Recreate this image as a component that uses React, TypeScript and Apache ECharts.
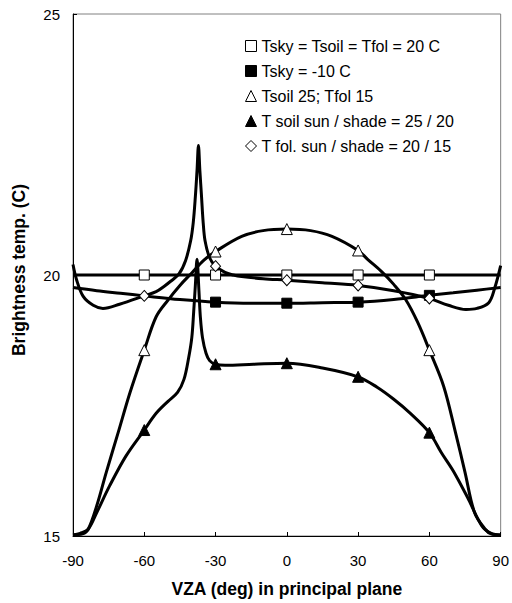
import React, { useEffect, useRef } from 'react';
import * as echarts from 'echarts';

const FONT = '"Liberation Sans", Arial, sans-serif';

const SERIES_NAMES = [
  'Tsky = Tsoil = Tfol = 20 C',
  'Tsky = -10 C',
  'Tsoil 25; Tfol 15',
  'T soil sun / shade = 25 / 20',
  'T fol. sun / shade = 20 / 15',
];

const MARKER_X = [-60, -30, 0, 30, 60];
const MARKER_X_TSKY = [-30, 0, 30, 60];

const X_TICKS = [-90, -60, -30, 0, 30, 60, 90];
const Y_TICKS = [15, 20, 25];

// Series 1: uniform 20 C
const uniformX = [-90, -60, -30, 0, 30, 60, 90];
const uniformY = [20, 20, 20, 20, 20, 20, 20];

// Series 2: Tsky = -10 C
const coldSkyX = [-90, -80, -70, -60, -45, -30, -15, 0, 15, 30, 45, 60, 70, 80, 90];
const coldSkyY = [19.76, 19.7, 19.65, 19.6, 19.53, 19.48, 19.46, 19.46, 19.47, 19.48, 19.53, 19.61, 19.66, 19.71, 19.76];

// Series 3: Tsoil 25; Tfol 15
const soilFolX = [-90, -86, -83.6, -80, -76, -71, -66, -60, -55, -50, -45, -40, -35, -30, -19, -10, 0, 10, 19, 30, 34, 40, 45, 50, 55, 60, 66, 71, 75, 79, 83.5, 86, 90];
const soilFolY = [15.02, 15.04, 15.13, 15.58, 16.22, 16.98, 17.75, 18.56, 19.2, 19.52, 19.8, 20.04, 20.28, 20.45, 20.74, 20.85, 20.88, 20.85, 20.74, 20.47, 20.3, 20.06, 19.82, 19.53, 19.1, 18.56, 17.87, 16.98, 16.22, 15.45, 15.13, 15.04, 15.02];

// Series 4: T soil sun / shade = 25 / 20
const soilSunX = [-90, -87, -83.6, -80, -74.6, -67.6, -60, -55, -50, -46, -43.3, -41.3, -40, -39.2, -38.5, -37.8, -37, -36.4, -35.5, -34, -32.5, -30, -26, -14, 0, 15, 30, 38, 45, 52, 60, 65, 70, 76.5, 82, 86, 90];
const soilSunY = [15.02, 15.05, 15.13, 15.45, 15.96, 16.54, 17.03, 17.35, 17.58, 17.75, 18.0, 18.42, 18.8, 19.3, 19.8, 20.3, 19.7, 19.2, 18.8, 18.5, 18.36, 18.29, 18.27, 18.29, 18.31, 18.22, 18.05, 17.85, 17.62, 17.35, 16.98, 16.6, 16.25, 15.7, 15.2, 15.05, 15.02];

// Series 5: T fol. sun / shade = 20 / 15
const folSunX = [-90, -88.5, -85.7, -81.5, -77.4, -70.4, -60, -55, -51.7, -48.9, -45.4, -42.6, -40.5, -39.4, -38.5, -37.8, -37.2, -36.6, -35.9, -35.2, -34.4, -32.5, -30, -26, -22.5, -19, -10, 0, 15, 30, 45, 60, 68, 75.4, 80, 85, 87.5, 90];
const folSunY = [20.2, 19.91, 19.59, 19.42, 19.36, 19.44, 19.6, 19.68, 19.78, 19.88, 20.02, 20.28, 20.65, 21.0, 21.5, 22.0, 22.48, 22.0, 21.5, 21.0, 20.65, 20.33, 20.17, 20.05, 20.0, 19.97, 19.93, 19.9, 19.85, 19.8, 19.7, 19.55, 19.42, 19.34, 19.36, 19.47, 19.75, 20.18];

function build(xs: number[], ys: number[], marks: number[]) {
  return xs.map((x, i) =>
    marks.includes(x) ? { value: [x, ys[i]] } : { value: [x, ys[i]], symbol: 'none' }
  );
}

const OPEN = { color: '#ffffff', borderColor: '#000000', borderWidth: 1 };
const FILLED = { color: '#000000', borderColor: '#000000', borderWidth: 1 };

function lineSeries(name: string, data: any[], symbol: string, size: any, style: any) {
  return {
    name,
    type: 'line',
    data,
    smooth: 0.35,
    symbol,
    symbolSize: size,
    showSymbol: true,
    showAllSymbol: true,
    lineStyle: { color: '#000000', width: 3 },
    itemStyle: style,
    emphasis: { disabled: true },
  };
}

export default function App() {
  const ref = useRef<HTMLDivElement>(null);
  useEffect(() => {
    if (!ref.current) return;
    const chart = echarts.init(ref.current, undefined, { renderer: 'svg' });
    const icons = ['rect', 'rect', 'triangle', 'triangle', 'diamond'];
    const styles = [OPEN, FILLED, OPEN, FILLED, OPEN];
    chart.setOption({
      animation: false,
      backgroundColor: '#ffffff',
      textStyle: { fontFamily: FONT },
      grid: {
        left: 73,
        right: 7,
        top: 14,
        bottom: 66,
        show: true,
        borderColor: '#808080',
        borderWidth: 1,
        backgroundColor: 'transparent',
      },
      legend: {
        show: true,
        orient: 'vertical',
        left: 240,
        top: 33,
        itemWidth: 11,
        itemHeight: 11,
        itemGap: 9,
        selectedMode: false,
        textStyle: { fontSize: 16, color: '#000000', fontFamily: FONT, lineHeight: 16 },
        data: SERIES_NAMES.map((n, i) => ({ name: n, icon: icons[i], itemStyle: styles[i] })),
      },
      xAxis: {
        type: 'value',
        min: X_TICKS[0],
        max: X_TICKS[X_TICKS.length - 1],
        interval: 30,
        name: 'VZA (deg) in principal plane',
        nameLocation: 'middle',
        nameGap: 44,
        nameTextStyle: { fontSize: 17.5, fontWeight: 'bold', color: '#000000', fontFamily: FONT },
        axisLine: { show: true, onZero: false, lineStyle: { color: '#000000', width: 1 } },
        axisTick: { show: true, inside: true, length: 4, lineStyle: { color: '#000000' } },
        axisLabel: { fontSize: 15, color: '#000000', margin: 17, fontFamily: FONT },
        splitLine: { show: false },
      },
      yAxis: {
        type: 'value',
        min: Y_TICKS[0],
        max: Y_TICKS[Y_TICKS.length - 1],
        interval: 5,
        name: 'Brightness temp. (C)',
        nameLocation: 'middle',
        nameGap: 45,
        nameTextStyle: {
          fontSize: 17.5,
          fontWeight: 'bold',
          color: '#000000',
          fontFamily: FONT,
          padding: [0, 0, 0, 10],
        },
        axisLine: { show: true, onZero: false, lineStyle: { color: '#000000', width: 1 } },
        axisTick: { show: true, inside: true, length: 4, lineStyle: { color: '#000000' } },
        axisLabel: { fontSize: 15, color: '#000000', margin: 13, fontFamily: FONT },
        splitLine: { show: false },
      },
      series: [
        lineSeries(SERIES_NAMES[0], build(uniformX, uniformY, MARKER_X), 'rect', 10, OPEN),
        lineSeries(SERIES_NAMES[1], build(coldSkyX, coldSkyY, MARKER_X_TSKY), 'rect', 10, FILLED),
        lineSeries(SERIES_NAMES[2], build(soilFolX, soilFolY, MARKER_X), 'triangle', 11, OPEN),
        lineSeries(SERIES_NAMES[3], build(soilSunX, soilSunY, MARKER_X), 'triangle', 11, FILLED),
        lineSeries(SERIES_NAMES[4], build(folSunX, folSunY, MARKER_X), 'diamond', [10, 11], OPEN),
      ],
    });
    return () => chart.dispose();
  }, []);
  return (
    <div
      ref={ref}
      style={{ position: 'fixed', left: 0, top: 0, width: 512, height: 603, background: '#fff' }}
    />
  );
}
